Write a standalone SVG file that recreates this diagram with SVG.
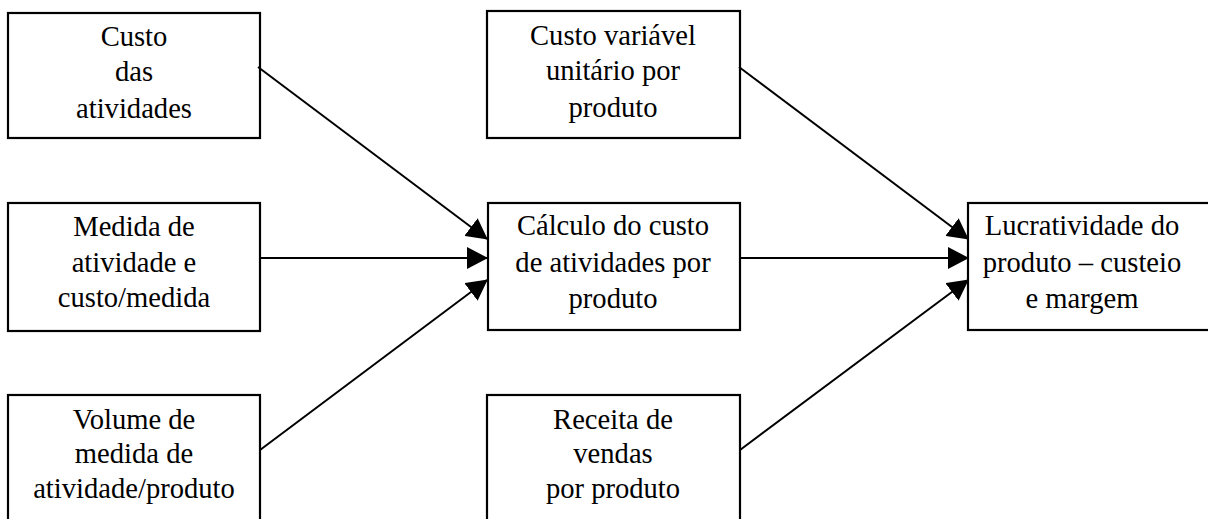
<svg xmlns="http://www.w3.org/2000/svg" width="1208" height="519" viewBox="0 0 1208 519">
<style>
.box{fill:#fff;stroke:#000;stroke-width:2.2}
.t{font-family:'Liberation Serif','Times New Roman',Times,'DejaVu Serif',serif;font-size:28.6px;fill:#000;text-anchor:middle}
.c{stroke:#000;stroke-width:2;fill:none}
</style>
<defs>
<marker id="ah" markerUnits="userSpaceOnUse" markerWidth="21" markerHeight="22" viewBox="0 0 21 22" refX="20" refY="11" orient="auto">
<path d="M0,0 L21,11 L0,22 z" fill="#000"/>
</marker>
</defs>
<rect width="1208" height="519" fill="#fff"/>
<g id="n1"><rect class="box" x="8" y="13" width="252" height="125"/>
<text class="t" x="134" y="46">Custo</text><text class="t" x="134" y="81">das</text><text class="t" x="134" y="118">atividades</text></g>
<g id="n2"><rect class="box" x="8" y="203" width="252" height="128"/>
<text class="t" x="134" y="236">Medida de</text><text class="t" x="134" y="272">atividade e</text><text class="t" x="134" y="307">custo/medida</text></g>
<g id="n3"><rect class="box" x="8" y="395" width="252" height="140"/>
<text class="t" x="134" y="429">Volume de</text><text class="t" x="134" y="463">medida de</text><text class="t" x="134" y="498">atividade/produto</text></g>
<g id="n4"><rect class="box" x="487" y="11" width="253" height="127"/>
<text class="t" x="613" y="45">Custo variável</text><text class="t" x="613" y="80">unitário por</text><text class="t" x="613" y="117">produto</text></g>
<g id="n5"><rect class="box" x="488" y="203" width="252" height="127"/>
<text class="t" x="613" y="235">Cálculo do custo</text><text class="t" x="613" y="272">de atividades por</text><text class="t" x="613" y="308">produto</text></g>
<g id="n6"><rect class="box" x="487" y="395" width="253" height="140"/>
<text class="t" x="613" y="429">Receita de</text><text class="t" x="613" y="463">vendas</text><text class="t" x="613" y="498">por produto</text></g>
<g id="n7"><rect class="box" x="968" y="203" width="250" height="127"/>
<text class="t" x="1082" y="235">Lucratividade do</text><text class="t" x="1082" y="272">produto – custeio</text><text class="t" x="1082" y="308">e margem</text></g>
<g id="connectors">
<line class="c" x1="258" y1="67" x2="487" y2="239" marker-end="url(#ah)"/>
<line class="c" x1="260" y1="258" x2="487" y2="258" marker-end="url(#ah)"/>
<line class="c" x1="260" y1="450" x2="487" y2="280" marker-end="url(#ah)"/>
<line class="c" x1="739" y1="67" x2="968" y2="239" marker-end="url(#ah)"/>
<line class="c" x1="740" y1="258" x2="968" y2="258" marker-end="url(#ah)"/>
<line class="c" x1="740" y1="450" x2="968" y2="280" marker-end="url(#ah)"/>
</g>
</svg>
